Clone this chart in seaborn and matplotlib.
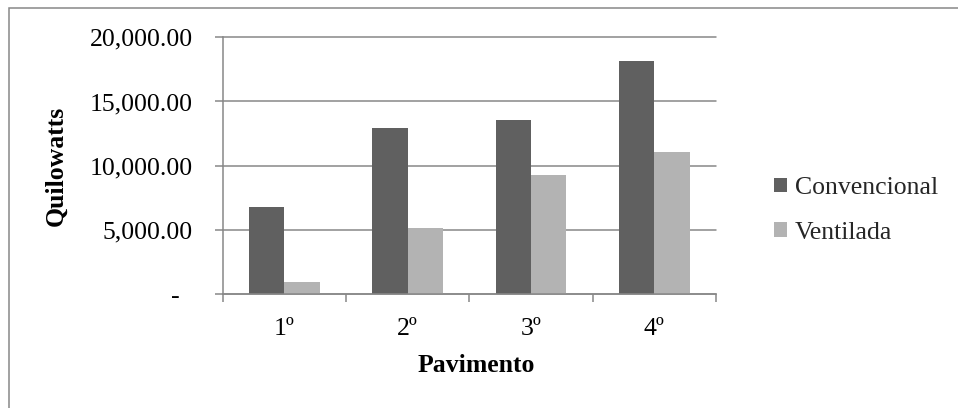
import matplotlib
matplotlib.use("Agg")
import matplotlib.pyplot as plt
from matplotlib.patches import Rectangle
from matplotlib.ticker import FixedLocator, FuncFormatter
import pandas as pd
import seaborn as sns

# Energy demand per floor, conventional vs. ventilated facade
pavimentos = ["1º", "2º", "3º", "4º"]
convencional = [6800, 12910, 13530, 18180]
ventilada = [960, 5170, 9300, 11090]
series_names = ["Convencional", "Ventilada"]
y_ticks = [0, 5000, 10000, 15000, 20000]

df = pd.DataFrame({
    "Pavimento": pavimentos * 2,
    "Quilowatts": convencional + ventilada,
    "Serie": [series_names[0]] * 4 + [series_names[1]] * 4,
})

sns.set_theme(style="white")
plt.rcParams["font.family"] = ["Liberation Serif", "DejaVu Serif"]

grid_gray = "#888888"
fs = 18.5

fig = plt.figure(figsize=(9.58, 4.08), dpi=100)
ax = fig.add_axes([0.2325, 0.2794, 0.7474 - 0.2325, 0.9086 - 0.2794])

sns.barplot(data=df, x="Pavimento", y="Quilowatts", hue="Serie",
            hue_order=series_names, order=pavimentos,
            palette=["#606060", "#b3b3b3"], width=0.5714, gap=0,
            saturation=1, linewidth=0, ax=ax, zorder=3)

ax.set_xlim(-0.5, 3.5)
ax.set_ylim(0, 20000)

# horizontal gridlines
ax.yaxis.set_major_locator(FixedLocator(y_ticks))
ax.grid(axis="y", color=grid_gray, linewidth=1.1, zorder=0)
for gl in ax.get_ygridlines():
    gl.set_clip_on(False)
ax.grid(axis="x", visible=False)

ax.yaxis.set_major_formatter(FuncFormatter(
    lambda v, p: "-  " if v == 0 else f"{v:,.2f}"))

# category tick marks sit between the groups
ax.set_xticks([0, 1, 2, 3])
ax.set_xticklabels(pavimentos)
ax.xaxis.set_minor_locator(FixedLocator([-0.5, 0.5, 1.5, 2.5, 3.5]))
ax.tick_params(axis="x", which="major", length=0, pad=17, labelsize=fs, colors="black")
ax.tick_params(axis="x", which="minor", length=6, width=1.1, color=grid_gray, direction="out", bottom=True)
ax.tick_params(axis="y", which="major", length=6, width=1.1, color=grid_gray, direction="out",
               left=True, pad=15.5, labelsize=fs, labelcolor="black")
for lbl in ax.get_xticklabels() + ax.get_yticklabels():
    lbl.set_color("black")

for side in ["top", "right"]:
    ax.spines[side].set_visible(False)
for side in ["left", "bottom"]:
    ax.spines[side].set_color(grid_gray)
    ax.spines[side].set_linewidth(1.1)
    ax.spines[side].set_zorder(4)

ax.set_xlabel("Pavimento", fontsize=fs, fontweight="bold", color="black")
ax.xaxis.set_label_coords(0.514, -0.232)
ax.set_ylabel("Quilowatts", fontsize=fs, fontweight="bold", labelpad=16, color="black")

handles, labels = ax.get_legend_handles_labels()
ax.get_legend().remove()
fig.legend(handles, labels, loc="center left", bbox_to_anchor=(774 / 958, 1 - 210.5 / 408),
           frameon=False, fontsize=fs, handlelength=0.5, handleheight=0.5,
           handletextpad=0.3, labelspacing=0.88, borderpad=0, borderaxespad=0)

# chart area frame
fig.patches.append(Rectangle((8.5 / 958, -0.1), 1.2, 1.1 - 8.5 / 408,
                             transform=fig.transFigure, fill=False,
                             edgecolor=grid_gray, linewidth=1.1))

fig.savefig("out.png", dpi=100)
